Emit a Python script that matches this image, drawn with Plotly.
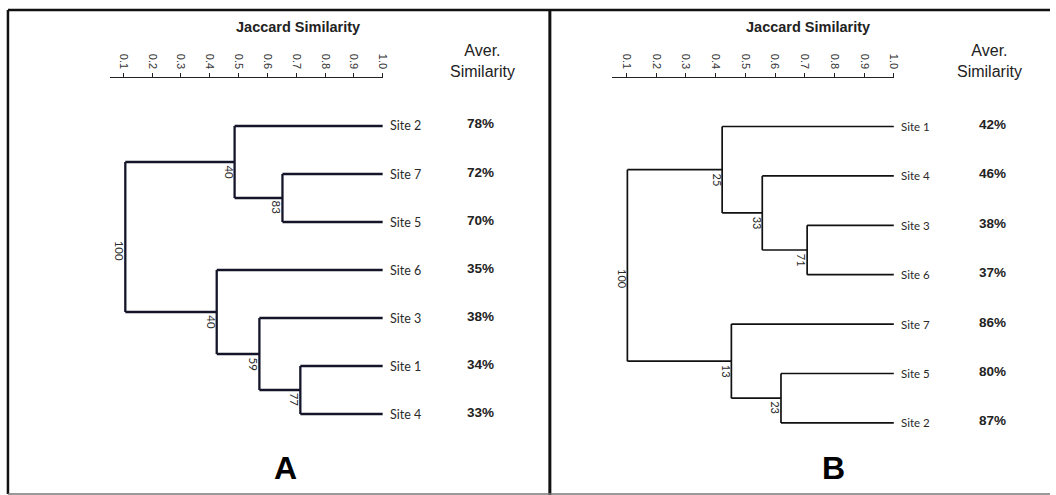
import plotly.graph_objects as go

W, H = 1056, 495

# ---------------- data ----------------
tick_vals = [0.1, 0.2, 0.3, 0.4, 0.5, 0.6, 0.7, 0.8, 0.9, 1.0]
tick_text = ["0.1", "0.2", "0.3", "0.4", "0.5", "0.6", "0.7", "0.8", "0.9", "1.0"]

# Panel A (leaf order top -> bottom)
A_leaves = ["Site 2", "Site 7", "Site 5", "Site 6", "Site 3", "Site 1", "Site 4"]
A_avg = ["78%", "72%", "70%", "35%", "38%", "34%", "33%"]
# merges: node ids 0..6 are leaves, new nodes are 7, 8, ...
A_left = [1, 0, 5, 4, 3, 8]
A_right = [2, 7, 6, 9, 10, 11]
A_sim = [0.652, 0.486, 0.714, 0.572, 0.424, 0.107]
A_support = ["83", "40", "77", "59", "40", "100"]

# Panel B
B_leaves = ["Site 1", "Site 4", "Site 3", "Site 6", "Site 7", "Site 5", "Site 2"]
B_avg = ["42%", "46%", "38%", "37%", "86%", "80%", "87%"]
B_left = [2, 1, 0, 5, 4, 9]
B_right = [3, 7, 8, 6, 10, 11]
B_sim = [0.708, 0.557, 0.422, 0.620, 0.453, 0.103]
B_support = ["71", "33", "25", "23", "13", "100"]


def px_x(x):
    return x / W


def px_y(y):
    return 1 - y / H


def build(leaves, left, right, sim):
    n = len(leaves)
    pos = {i: float(i) for i in range(n)}
    xv = {i: 1.0 for i in range(n)}
    xs, ys, nodes = [], [], []
    for k, (l, r, s) in enumerate(zip(left, right, sim)):
        nid = n + k
        xs += [s, s, None]
        ys += [pos[l], pos[r], None]
        for c in (l, r):
            xs += [xv[c], s, None]
            ys += [pos[c], pos[c], None]
        pos[nid] = (pos[l] + pos[r]) / 2
        xv[nid] = s
        nodes.append((s, pos[nid]))
    return xs, ys, nodes


fig = go.Figure()
annotations = []

label_font = dict(family="Lato, Carlito, Arial, sans-serif", color="#2a2a2a")
arial = "Arial, Liberation Sans, sans-serif"

panels = [
    dict(leaves=A_leaves, avg=A_avg, left=A_left, right=A_right, sim=A_sim, sup=A_support,
         xa="x", ya="y", lw=2.3, lc="#15152a", avg_x=483, title_x=300, aver_x=485,
         letter="A", letter_x=287, site_size=12.5, sup_size=11.5),
    dict(leaves=B_leaves, avg=B_avg, left=B_left, right=B_right, sim=B_sim, sup=B_support,
         xa="x2", ya="y2", lw=1.7, lc="#111111", avg_x=998, title_x=813, aver_x=995,
         letter="B", letter_x=838, site_size=11.5, sup_size=11),
]

for p in panels:
    xs, ys, nodes = build(p["leaves"], p["left"], p["right"], p["sim"])
    fig.add_trace(go.Scatter(x=xs, y=ys, mode="lines", xaxis=p["xa"], yaxis=p["ya"],
                             line=dict(color=p["lc"], width=p["lw"]), hoverinfo="skip",
                             showlegend=False, cliponaxis=False))
    for i, (name, av) in enumerate(zip(p["leaves"], p["avg"])):
        annotations.append(dict(x=1.0, y=i, xref=p["xa"], yref=p["ya"], text=name,
                                showarrow=False, xanchor="left", yanchor="middle", xshift=5,
                                font=dict(size=p["site_size"], **label_font)))
        annotations.append(dict(x=px_x(p["avg_x"]), y=i, xref="paper", yref=p["ya"],
                                text="<b>" + av + "</b>", showarrow=False, xanchor="center",
                                yanchor="middle", yshift=2,
                                font=dict(size=13.5, family=arial, color="#222222")))
    for k, ((sx, sy), sv) in enumerate(zip(nodes, p["sup"])):
        is_root = k == len(nodes) - 1
        annotations.append(dict(x=sx, y=sy, xref=p["xa"], yref=p["ya"], text=sv,
                                showarrow=False, textangle=90, xanchor="center",
                                yanchor="middle", xshift=-5, yshift=-14 if is_root else -10,
                                font=dict(size=p["sup_size"], **label_font)))
    annotations.append(dict(x=px_x(p["title_x"]), y=px_y(27), xref="paper", yref="paper",
                            text="<b>Jaccard Similarity</b>", showarrow=False,
                            xanchor="center", yanchor="middle",
                            font=dict(size=14.5, family=arial, color="#222222")))
    annotations.append(dict(x=px_x(p["aver_x"]), y=px_y(61), xref="paper", yref="paper",
                            text="Aver.<br>Similarity", showarrow=False,
                            xanchor="center", yanchor="middle",
                            font=dict(size=16, family=arial, color="#222222")))
    annotations.append(dict(x=px_x(p["letter_x"]), y=px_y(468), xref="paper", yref="paper",
                            text="<b>" + p["letter"] + "</b>", showarrow=False,
                            xanchor="center", yanchor="middle",
                            font=dict(size=32, family=arial, color="#000000")))

axis_common = dict(
    tickvals=tick_vals, ticktext=tick_text, tickangle=90, side="top", ticks="outside",
    ticklen=4, tickwidth=1, tickcolor="#222222", showline=True, linecolor="#222222",
    linewidth=1, showgrid=False, zeroline=False, anchor="free", position=px_y(77),
    tickfont=dict(size=11, family=arial, color="#333333"),
    fixedrange=True,
)

shape_line = dict(color="#111111", width=2.5)
shapes = [
    dict(type="line", xref="paper", yref="paper", x0=px_x(8), x1=1.0, y0=px_y(10), y1=px_y(10), line=shape_line),
    dict(type="line", xref="paper", yref="paper", x0=px_x(8), x1=px_x(8), y0=px_y(10), y1=px_y(494), line=shape_line),
    dict(type="line", xref="paper", yref="paper", x0=px_x(553), x1=px_x(553), y0=px_y(10), y1=0, line=dict(color="#111111", width=3)),
    dict(type="line", xref="paper", yref="paper", x0=px_x(8), x1=1.0, y0=px_y(494), y1=px_y(494), line=dict(color="#777777", width=1.5)),
]

fig.update_layout(
    width=W, height=H, margin=dict(l=0, r=0, t=0, b=0),
    paper_bgcolor="white", plot_bgcolor="rgba(0,0,0,0)",
    xaxis=dict(domain=[px_x(111), px_x(385)], range=[0.0552, 1.0], **axis_common),
    yaxis=dict(domain=[px_y(440), px_y(100)], range=[(440 - 126) / 48, (100 - 126) / 48],
               visible=False, anchor="x", fixedrange=True),
    xaxis2=dict(domain=[px_x(615), px_x(899)], range=[0.0496, 1.0], **axis_common),
    yaxis2=dict(domain=[px_y(445), px_y(100)], range=[(445 - 126.5) / 49.4, (100 - 126.5) / 49.4],
                visible=False, anchor="x2", fixedrange=True),
    annotations=annotations, shapes=shapes, showlegend=False,
)

fig.write_html(
    "out.html",
    config={"displayModeBar": False},
    post_script="document.body.style.margin='0';document.body.style.overflow='hidden';",
)
